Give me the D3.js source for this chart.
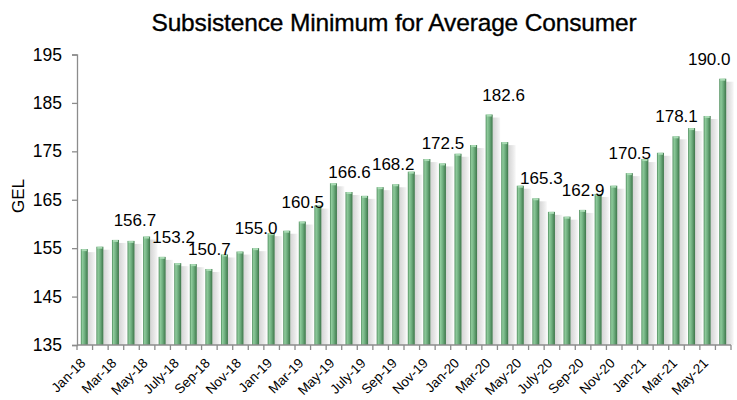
<!DOCTYPE html>
<html>
<head>
<meta charset="utf-8">
<script src="https://cdn.jsdelivr.net/npm/d3@7"></script>
<style>
  html, body { margin: 0; padding: 0; background: #fff; }
  svg { display: block; font-family: "Liberation Sans", Arial, sans-serif; }
</style>
</head>
<body>
<svg id="chart" width="737" height="400"></svg>
<script>
// Monthly subsistence minimum for an average consumer, GEL
const months = [
  "Jan-18","Feb-18","Mar-18","Apr-18","May-18","Jun-18","July-18","Aug-18","Sep-18","Oct-18","Nov-18","Dec-18",
  "Jan-19","Feb-19","Mar-19","Apr-19","May-19","Jun-19","July-19","Aug-19","Sep-19","Oct-19","Nov-19","Dec-19",
  "Jan-20","Feb-20","Mar-20","Apr-20","May-20","Jun-20","July-20","Aug-20","Sep-20","Oct-20","Nov-20","Dec-20",
  "Jan-21","Feb-21","Mar-21","Apr-21","May-21","Jun-21"
];
const values = [
  154.8, 155.3, 156.7, 156.5, 157.4, 153.2, 151.9, 151.7, 150.7, 153.7, 154.3, 155.0,
  158.1, 158.6, 160.5, 163.8, 168.4, 166.6, 165.8, 167.6, 168.2, 170.8, 173.4, 172.5,
  174.5, 176.3, 182.6, 176.9, 167.9, 165.3, 162.5, 161.5, 162.9, 166.2, 167.9, 170.5,
  173.4, 174.7, 178.1, 179.8, 182.3, 190.0
];
// Quarter-end months carry a value label
const labelledMonths = ["Mar-18","Jun-18","Sep-18","Dec-18","Mar-19","Jun-19","Sep-19","Dec-19",
                        "Mar-20","Jun-20","Sep-20","Dec-20","Mar-21","Jun-21"];
// Every other month is named on the axis
const tickMonths = months.filter((m, i) => i % 2 === 0);
const yTicks = [135, 145, 155, 165, 175, 185, 195];

// Horizontal nudges that keep neighbouring value labels apart
const labelNudge = {"Mar-18": 19, "Jun-18": 11, "Sep-19": -3, "Mar-20": 14, "Jun-20": 5, "Jun-21": -14};

const data = months.map((m, i) => ({ month: m, value: values[i] }));

const svg = d3.select("#chart");
const margin = { left: 77, right: 6, top: 54.5, bottom: 55 };
const W = 737, H = 400;

const x = d3.scaleBand().domain(months).range([margin.left, W - margin.right]).paddingInner(0).paddingOuter(0);
const y = d3.scaleLinear().domain([135, 195]).range([345, margin.top]);

const defs = svg.append("defs");
const barGrad = defs.append("linearGradient").attr("id", "barGrad").attr("x1", "0").attr("x2", "1").attr("y1", "0").attr("y2", "0");
[["0%", "#4c8a5a"], ["22%", "#8fcb9c"], ["55%", "#6eae7e"], ["100%", "#3d7549"]].forEach(([o, c]) =>
  barGrad.append("stop").attr("offset", o).attr("stop-color", c));
const shadowGrad = defs.append("linearGradient").attr("id", "shadowGrad").attr("x1", "0").attr("x2", "1").attr("y1", "0").attr("y2", "0");
[["0%", "#d4d4d4"], ["60%", "#e8e8e8"], ["100%", "#f8f8f8"]].forEach(([o, c]) =>
  shadowGrad.append("stop").attr("offset", o).attr("stop-color", c));

// Title
svg.append("text")
  .attr("x", 394).attr("y", 31)
  .attr("text-anchor", "middle")
  .attr("font-size", 24.5)
  .attr("fill", "#000")
  .attr("stroke", "#000").attr("stroke-width", 0.35)
  .style("letter-spacing", "-0.15px")
  .text("Subsistence Minimum for Average Consumer");

const bw = 7;
const barX = d => x(d.month) + 3.8;

// Soft shadow to the right of each column
svg.append("g").selectAll("rect").data(data).join("rect")
  .attr("x", d => barX(d) + bw)
  .attr("y", d => y(d.value) + 3)
  .attr("width", 7.5)
  .attr("height", d => y(135) - y(d.value) - 3)
  .attr("fill", "url(#shadowGrad)");

// Columns
const bars = svg.append("g");
bars.selectAll("rect.bar").data(data).join("rect")
  .attr("class", "bar")
  .attr("x", barX)
  .attr("y", d => y(d.value))
  .attr("width", bw)
  .attr("height", d => y(135) - y(d.value))
  .attr("fill", "url(#barGrad)");
bars.selectAll("rect.cap").data(data).join("rect")
  .attr("class", "cap")
  .attr("x", d => barX(d) + 1)
  .attr("y", d => y(d.value))
  .attr("width", bw - 2)
  .attr("height", 2)
  .attr("fill", "#a9dbb4");

// Y axis
const yAxis = d3.axisLeft(y).tickValues(yTicks).tickSize(5).tickPadding(10);
const gy = svg.append("g").attr("transform", `translate(${margin.left},0)`).call(yAxis);
gy.select(".domain").attr("stroke", "#8c8c8c").attr("stroke-width", 1.3);
gy.selectAll(".tick line").attr("stroke", "#8c8c8c").attr("stroke-width", 1.3);
gy.selectAll(".tick text").attr("font-size", 17.5).attr("fill", "#000").attr("font-family", "Liberation Sans, Arial, sans-serif");

// X axis: tick marks on band boundaries, labels every other month
const gx = svg.append("g");
gx.append("line")
  .attr("x1", margin.left).attr("x2", W - margin.right)
  .attr("y1", y(135)).attr("y2", y(135))
  .attr("stroke", "#8c8c8c").attr("stroke-width", 1.3);
gx.selectAll("line.tk").data(months.concat(["end"])).join("line")
  .attr("class", "tk")
  .attr("x1", (m, i) => margin.left + i * x.bandwidth())
  .attr("x2", (m, i) => margin.left + i * x.bandwidth())
  .attr("y1", y(135)).attr("y2", y(135) + 5)
  .attr("stroke", "#8c8c8c").attr("stroke-width", 1.3);
gx.selectAll("text").data(tickMonths).join("text")
  .attr("transform", m => `translate(${x(m) + x.bandwidth() / 2 + 1.5},${y(135) + 19}) rotate(-45)`)
  .attr("text-anchor", "end")
  .attr("font-size", 13.5)
  .attr("fill", "#000")
  .text(m => m);

// Y axis title
svg.append("text")
  .attr("transform", "translate(24,196) rotate(-90)")
  .attr("text-anchor", "middle")
  .attr("font-size", 17)
  .attr("fill", "#000")
  .text("GEL");

// Value labels
svg.append("g").selectAll("text").data(data.filter(d => labelledMonths.includes(d.month))).join("text")
  .attr("x", d => x(d.month) + x.bandwidth() / 2 + (labelNudge[d.month] || 0))
  .attr("y", d => y(d.value) - 14)
  .attr("text-anchor", "middle")
  .attr("font-size", 17)
  .attr("fill", "#000")
  .text(d => d.value.toFixed(1));
</script>
</body>
</html>
